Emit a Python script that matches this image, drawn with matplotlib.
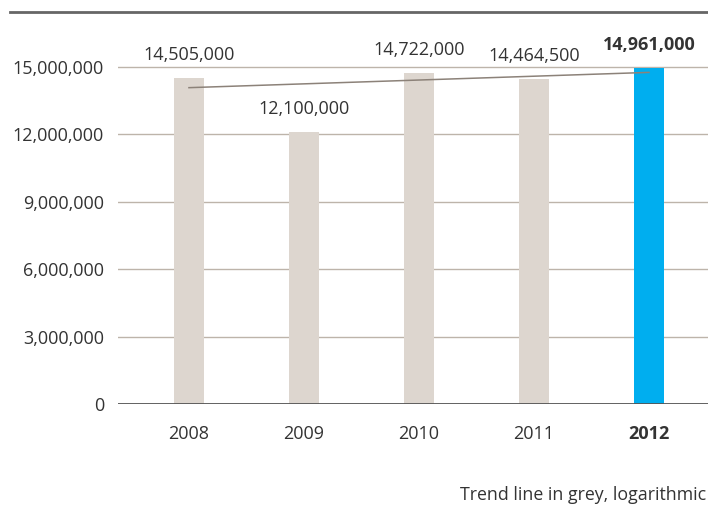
import matplotlib
matplotlib.use("Agg")
from matplotlib import pyplot as plt
from matplotlib.lines import Line2D

plt.rcParams['font.family'] = ['Open Sans', 'DejaVu Sans']

# data
years = ['2008', '2009', '2010', '2011', '2012']
values = [14505000, 12100000, 14722000, 14464500, 14961000]
labels = ['14,505,000', '12,100,000', '14,722,000', '14,464,500', '14,961,000']
trend_years = [0, 4]          # index of 2008 and 2012
trend_values = [14080000, 14760000]
yticks = [0, 3000000, 6000000, 9000000, 12000000, 15000000]
ytick_labels = ['0', '3,000,000', '6,000,000', '9,000,000', '12,000,000', '15,000,000']

beige = '#ddd6cf'
blue = '#00aeef'
txt = '#333333'

fig = plt.figure(figsize=(7.08, 5.11), dpi=100)
ax = fig.add_axes([118/708, 107/511, 590/708, 370.7/511])

x = range(len(years))
colors = [beige]*4 + [blue]
ax.bar(x, values, 0.26, color=colors, zorder=3)

# trend line
ax.plot(trend_years, trend_values, color='#8c8279', lw=1.1, zorder=4)

ax.set_xlim(-0.617, 4.513)
ax.set_ylim(0, 16500000)

ax.set_yticks(yticks)
ax.set_yticklabels(ytick_labels, fontsize=13, color=txt)
ax.set_xticks(list(x))
ax.set_xticklabels(years, fontsize=13, color=txt)
ax.get_xticklabels()[-1].set_fontweight('bold')
ax.tick_params(axis='both', length=0)
ax.tick_params(axis='y', pad=10)
ax.tick_params(axis='x', pad=15)

for t in yticks[1:]:
    ax.axhline(t, color='#bdb4aa', lw=1, zorder=1)
ax.axhline(0, color='#555555', lw=1.3, zorder=5)

for s in ax.spines.values():
    s.set_visible(False)

# value labels
for i, v in enumerate(values):
    w = 'bold' if i == 4 else 'normal'
    ax.annotate(labels[i], (i, v), xytext=(0, 10), textcoords='offset points',
                ha='center', va='bottom', fontsize=13, color=txt, fontweight=w)

# top rule
fig.add_artist(Line2D([10/708, 1.0], [1 - 12/511, 1 - 12/511], color='#666666', lw=2,
                      transform=fig.transFigure))

fig.text(460/708, 1 - 495/511, 'Trend line in grey, logarithmic', fontsize=12.8,
         color=txt, ha='left', va='center')

fig.savefig('out.png', dpi=100)
